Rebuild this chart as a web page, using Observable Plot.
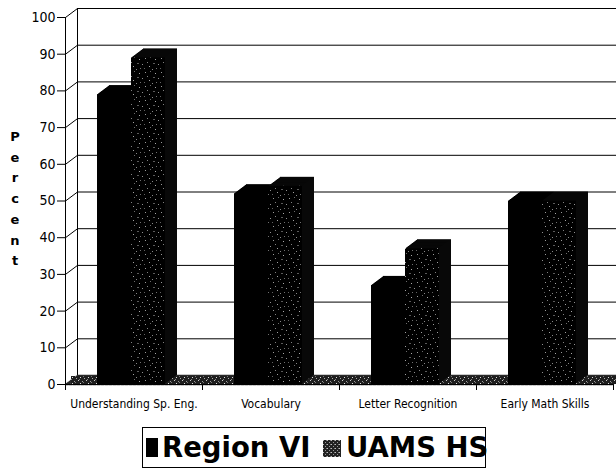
<!DOCTYPE html>
<html>
<head>
<meta charset="utf-8">
<script src="https://cdn.jsdelivr.net/npm/d3@7"></script>
<script src="https://cdn.jsdelivr.net/npm/@observablehq/plot@0.6"></script>
<style>
  html, body { margin: 0; padding: 0; background: #fff; }
  #wrap { position: relative; width: 616px; height: 470px; overflow: hidden; }
  #ylabel { position: absolute; left: 7px; top: 127px; width: 16px; text-align: center;
            font: bold 13px "DejaVu Sans", sans-serif; line-height: 20.7px; color: #000; }
  #legend { position: absolute; left: 142px; top: 427px; width: 342px; height: 39px;
            border: 1px solid #000; box-sizing: content-box; }
  #legend .sw { position: absolute; }
  #legend .lt { position: absolute; top: 0; font: bold 27.5px "DejaVu Sans", sans-serif; line-height: 39px; color: #000; white-space: nowrap; }
</style>
</head>
<body>
<div id="wrap">
  <div id="chart"></div>
  <div id="ylabel"></div>
  <div id="legend"></div>
</div>
<script>
// ---- data ----
const categories = ["Understanding Sp. Eng.", "Vocabulary", "Letter Recognition", "Early Math Skills"];
const seriesNames = ["Region VI", "UAMS HS"];
const regionVI = [79, 52, 27, 50];
const uamsHS = [89, 54, 37, 50];
const yTicks = [0, 10, 20, 30, 40, 50, 60, 70, 80, 90, 100];
const yLabel = "Percent";

// ---- layout ----
const W = 616, H = 420;
const mL = 65, mR = 3, mT = 17, mB = 36;
const DX = 12, DY = 9;          // 3-D depth offset (pixels)
const N = 12;                   // extrusion steps
const xUnitPx = (W - mL - mR) / categories.length;
const yUnitPx = (H - mT - mB) / 100;

const rowsA = categories.map((c, i) => ({cat: c, i, value: regionVI[i]}));
const rowsB = categories.map((c, i) => ({cat: c, i, value: uamsHS[i]}));
const catRows = categories.map((c, i) => ({cat: c, i}));

const marks = [];
// back wall gridlines
marks.push(Plot.ruleY(yTicks, {dx: DX, dy: -DY, stroke: "#000", strokeWidth: 1}));
// back wall left edge
marks.push(Plot.ruleX([0], {y1: 0, y2: 100, dx: DX, dy: -DY, stroke: "#000"}));
// side wall connectors
marks.push(Plot.link(yTicks, {x1: 0, y1: d => d, x2: DX / xUnitPx, y2: d => d + DY / yUnitPx, stroke: "#000"}));
// floor
for (let k = DY; k >= 0; k--) {
  marks.push(Plot.ruleY([0], {dx: k * DX / DY, dy: -k, stroke: k === 0 ? "url(#floorPat)" : "#2a2a2a", strokeWidth: 1.6}));
}
marks.push(Plot.ruleY([0], {dx: DX / 2, dy: -DY / 2, stroke: "url(#floorPat)", strokeWidth: 8}));
// front axis line
marks.push(Plot.ruleX([0], {y1: 0, y2: 100, stroke: "#000"}));
// bars, extruded back to front
for (let k = N; k >= 0; k--) {
  const dx = k * DX / N, dy = -k * DY / N;
  marks.push(Plot.rectY(rowsA, {x1: "i", x2: d => d.i + 1, y1: 0, y2: "value",
    insetLeft: 32, insetRight: 71, dx, dy, fill: "#000"}));
  marks.push(Plot.rectY(rowsB, {x1: "i", x2: d => d.i + 1, y1: 0, y2: "value",
    insetLeft: 66, insetRight: 37, dx, dy, fill: k === 0 ? "url(#barPat)" : "#080808"}));
}
// front baseline
marks.push(Plot.ruleY([0], {stroke: "#000"}));
// category labels
marks.push(Plot.text(catRows, {x: d => d.i + 0.5, y: 0, text: "cat", dy: 20,
  fontSize: 12, fill: "#000", textAnchor: "middle", lineAnchor: "middle"}));

const chart = Plot.plot({
  width: W, height: H,
  marginLeft: mL, marginRight: mR, marginTop: mT, marginBottom: mB,
  style: {fontFamily: "'DejaVu Sans Condensed', 'DejaVu Sans', sans-serif", fontSize: "14px", color: "#000", background: "#fff"},
  x: {domain: [0, categories.length], ticks: d3.range(0, categories.length + 1), tickFormat: () => "", tickSize: 6, label: null},
  y: {domain: [0, 100], ticks: yTicks, tickSize: 8, tickPadding: 2, label: null},
  marks
});

// patterns
d3.select(chart).insert("defs", ":first-child").html(`
  <pattern id="barPat" patternUnits="userSpaceOnUse" width="16" height="14">
    <rect width="16" height="14" fill="#000"/>
    <rect x="1" y="2" width="1" height="1" fill="#9a9a9a"/>
    <rect x="6" y="1" width="1" height="1" fill="#6a6a6a"/>
    <rect x="11" y="3" width="1" height="1" fill="#a8a8a8"/>
    <rect x="3" y="6" width="1" height="1" fill="#808080"/>
    <rect x="9" y="7" width="2" height="1" fill="#5a5a5a"/>
    <rect x="14" y="8" width="1" height="1" fill="#909090"/>
    <rect x="5" y="10" width="1" height="1" fill="#a0a0a0"/>
    <rect x="12" y="12" width="1" height="1" fill="#707070"/>
    <rect x="0" y="12" width="1" height="1" fill="#606060"/>
    <rect x="8" y="13" width="1" height="1" fill="#888"/>
  </pattern>
  <pattern id="floorPat" patternUnits="userSpaceOnUse" width="8" height="6">
    <rect width="8" height="6" fill="#1e1e1e"/>
    <rect x="0" y="0" width="1" height="1" fill="#ccc"/>
    <rect x="4" y="1" width="1" height="1" fill="#999"/>
    <rect x="2" y="3" width="1" height="1" fill="#ddd"/>
    <rect x="6" y="4" width="1" height="1" fill="#aaa"/>
    <rect x="5" y="2" width="1" height="1" fill="#777"/>
    <rect x="1" y="5" width="1" height="1" fill="#888"/>
  </pattern>`);

document.getElementById("chart").appendChild(chart);

// y label (stacked letters)
document.getElementById("ylabel").innerHTML = yLabel.split("").join("<br>");

// legend
const legend = document.getElementById("legend");
legend.innerHTML = `
  <svg class="sw" style="left:3px;top:10px" width="12" height="19"><rect width="12" height="19" fill="#000"/></svg>
  <span class="lt" style="left:19px">${seriesNames[0]}</span>
  <svg class="sw" style="left:180px;top:12px" width="18" height="17">
    <defs><pattern id="legPat" patternUnits="userSpaceOnUse" width="4" height="4">
      <rect width="4" height="4" fill="#222"/>
      <rect x="0" y="0" width="1" height="1" fill="#bbb"/>
      <rect x="2" y="2" width="1" height="1" fill="#999"/>
      <rect x="3" y="0" width="1" height="1" fill="#777"/>
    </pattern></defs>
    <rect width="18" height="17" fill="url(#legPat)"/></svg>
  <span class="lt" style="left:203px">${seriesNames[1]}</span>`;
</script>
</body>
</html>
